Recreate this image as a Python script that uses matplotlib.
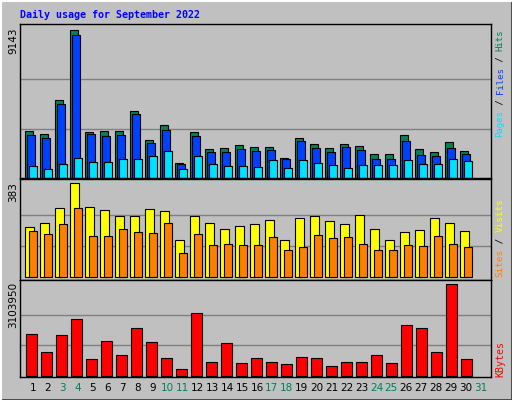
import matplotlib
matplotlib.use("Agg")
import matplotlib.pyplot as plt
import numpy as np

days = list(range(1, 32))
weekends = [3, 4, 10, 11, 17, 18, 24, 25, 31]

hits = [2882, 2695, 4810, 9143, 2819, 2882, 2882, 4125, 2322, 3255, 954, 2819, 1762, 1824, 2011,
        1886, 1886, 1265, 2446, 2073, 1824, 2073, 1949, 1513, 1513, 2633, 1762, 1576, 2197, 1638]
files = [2633, 2446, 4561, 8852, 2695, 2571, 2633, 3939, 2135, 2944, 871, 2571, 1576, 1576, 1762,
         1638, 1700, 1202, 2260, 1824, 1576, 1886, 1700, 1202, 1202, 2260, 1451, 1389, 1824, 1513]
pages = [767, 580, 891, 1265, 1016, 1016, 1202, 1202, 1389, 1638, 580, 1389, 891, 767, 767,
         705, 1140, 643, 1140, 954, 829, 643, 829, 829, 829, 1140, 891, 891, 1202, 1078]
visits = [205, 221, 283, 383, 288, 275, 250, 250, 279, 271, 151, 250, 221, 196, 209,
          217, 234, 151, 242, 250, 230, 217, 254, 196, 151, 184, 192, 242, 221, 188]
sites = [188, 176, 217, 284, 167, 167, 196, 184, 180, 221, 97, 176, 130, 134, 130,
         130, 163, 109, 122, 171, 159, 163, 134, 109, 109, 130, 126, 167, 134, 122]
kbytes = [1399600, 790100, 1365700, 1907500, 553100, 1162600, 688500, 1602800, 1128700, 586900,
          214500, 2110700, 451500, 1094800, 417600, 586900, 451500, 383800, 620800, 586900,
          316000, 451500, 451500, 688500, 417600, 1704300, 1602800, 790100, 3103950, 553100]

W, H = 512, 400
BG = "#C0C0C0"
GREEN, BLUE, CYAN = "#00805C", "#0040FF", "#00E0FF"
YELLOW, ORANGE, RED = "#FFFF00", "#FF8000", "#FF0000"

fig = plt.figure(figsize=(W / 100, H / 100), dpi=100, facecolor=BG)


def add_panel(top, bottom):
    ax = fig.add_axes([20 / W, 1 - bottom / H, 471 / W, (bottom - top) / H])
    ax.set_facecolor(BG)
    ax.set_xlim(0.133, 31.53)
    ax.set_xticks([])
    ax.set_yticks([])
    for s in ax.spines.values():
        s.set_color("black")
        s.set_linewidth(1)
    return ax


def grid(ax, vmax):
    for g in (vmax / 3, 2 * vmax / 3):
        ax.axhline(g, color="#808080", lw=1, zorder=0)


x = np.arange(1, 31)
kw = dict(align="edge", edgecolor="black", linewidth=0.8)

ax1 = add_panel(24, 178)
ax1.set_ylim(0, 9143 * 153.4 / 147.4)
grid(ax1, max(hits))
ax1.bar(x - 0.53, hits, width=0.5, color=GREEN, **kw)
ax1.bar(x - 0.4, files, width=0.5, color=BLUE, **kw)
ax1.bar(x - 0.25, pages, width=0.5, color=CYAN, **kw)

ax2 = add_panel(179, 280)
px2 = max(visits) / 92.3
ax2.set_ylim(-3.3 * px2, 96.7 * px2)
grid(ax2, max(visits))
ax2.bar(x - 0.51, visits, width=0.56, color=YELLOW, **kw)
ax2.bar(x - 0.29, sites, width=0.54, color=ORANGE, **kw)

ax3 = add_panel(280, 377)
px3 = max(kbytes) / 91.7
ax3.set_ylim(-1.3 * px3, 95.7 * px3)
grid(ax3, max(kbytes))
ax3.bar(x - 0.45, kbytes, width=0.7, color=RED, **kw)

# title
fig.text(20 / W, 1 - 15 / H, "Daily usage for September 2022", color="#0000FF",
         family="DejaVu Sans Mono", fontweight="bold", fontsize=7.2, va="center")

# left max labels
for val, ytop in ((max(hits), 27), (max(visits), 182), (max(kbytes), 282)):
    fig.text(13 / W, 1 - ytop / H, str(val), rotation=90, ha="center", va="top",
             fontsize=7.5, family="DejaVu Sans")


def side_label(parts, ybottom, step):
    y = ybottom
    for txt, col in parts:
        fig.text(500 / W, 1 - y / H, txt, rotation=90, ha="center", va="bottom",
                 color=col, family="DejaVu Sans Mono", fontsize=step / 0.602 * 0.72)
        y -= len(txt) * step


side_label([("Pages", CYAN), (" / ", "black"), ("Files", BLUE), (" / ", "black"), ("Hits", GREEN)], 137, 5.4)
side_label([("Sites", ORANGE), (" / ", "black"), ("Visits", YELLOW)], 277, 5.6)
side_label([("KBytes", RED)], 377, 6.0)

# day labels
for d in days:
    fig.text((33 + 14.93 * (d - 1)) / W, 1 - 388 / H, str(d), ha="center", va="center",
             fontsize=7.5, color=GREEN if d in weekends else "black")

# outer 3D border
fig.add_artist(plt.Line2D([0, 1], [0.5 / H, 0.5 / H], color="#404040", lw=2, transform=fig.transFigure))
fig.add_artist(plt.Line2D([1 - 0.5 / W, 1 - 0.5 / W], [0, 1], color="#404040", lw=2, transform=fig.transFigure))
fig.add_artist(plt.Line2D([0, 1], [1 - 0.5 / H, 1 - 0.5 / H], color="white", lw=1.5, transform=fig.transFigure))
fig.add_artist(plt.Line2D([0.5 / W, 0.5 / W], [0, 1], color="white", lw=1.5, transform=fig.transFigure))

fig.savefig("out.png", dpi=100, facecolor=BG)
